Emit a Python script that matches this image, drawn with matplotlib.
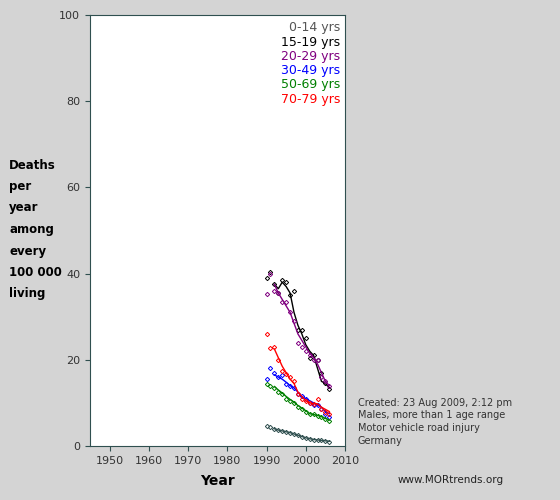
import matplotlib
matplotlib.use("Agg")
import matplotlib.pyplot as plt

years = list(range(1990, 2007))
line_years = list(range(1992, 2007))
labels = ["0-14 yrs", "15-19 yrs", "20-29 yrs", "30-49 yrs", "50-69 yrs", "70-79 yrs"]
colors = ["#2F4F4F", "#000000", "#800080", "#0000FF", "#008000", "#FF0000"]
pts = [
    [4.7,4.3,4.0,3.7,3.5,3.3,3.1,2.8,2.5,2.2,1.9,1.6,1.5,1.4,1.3,1.2,1.0],
    [38.9,40.4,37.5,35.5,38.4,38.1,35,36,27,26.8,25,20.5,21,20,17,14.6,13.2],
    [35.3,40,36,35.4,33.4,33.4,31.2,29,24,23,22,21,20,20,16,15,14],
    [15.5,18,17,16,16.5,14.5,14,13.5,12,11.5,11,10,9.5,9.5,8.5,7.5,6.8],
    [14.5,14,13.5,12.5,12,11,10.5,10,9,8.5,8,7.5,7.5,7,6.8,6.3,5.8],
    [26,22.7,23,20,17.5,16.8,16,15,12,11,10.5,10,9.8,11,8.5,8,7.5],
]
lines = [
    [4,3.7,3.5,3.3,3.1,2.8,2.5,2.2,1.9,1.7,1.5,1.4,1.3,1.2,1.1],
    [37.5,36.5,38,37,35.5,31,28,26,23.5,22,21,18,15,14.5,13.5],
    [37.5,35.5,34,32.5,31,28.5,26,24.5,23,21.5,20.5,19,17,15,14],
    [16.5,16,15.5,14.8,14,13.5,12.5,11.5,11,10.5,10,9.5,9,8,7.5],
    [13.8,13,12.3,11.5,10.8,10.2,9.4,8.8,8.2,7.5,7.3,7.1,6.8,6.4,6],
    [22.5,20.5,18.5,17,15.5,14.5,12.5,11.5,10.5,10,9.8,9.8,9,8.5,8],
]

fig = plt.figure(figsize=(5.6, 5.0), dpi=100, facecolor="#D4D4D4")
ax = fig.add_axes([90/560, 54/500, 255/560, 431/500])
ax.set_facecolor("white")
for p, l, c in zip(pts, lines, colors):
    ax.plot(years, p, linestyle="none", marker="D", markersize=2.2, markerfacecolor="none",
            markeredgecolor=c, markeredgewidth=0.7)
    ax.plot(line_years, l, color=c, lw=1)
ax.set_xlim(1945, 2010)
ax.set_ylim(0, 100)
ax.set_xticks(range(1950, 2011, 10))
ax.set_yticks(range(0, 101, 20))
for s in ax.spines.values():
    s.set_color("#2F4F4F")
ax.tick_params(colors="#2F4F4F", labelsize=8, labelcolor="#333333")
ax.set_xlabel("Year", fontsize=10, fontweight="bold", labelpad=6)
legend_colors = ["#555555"] + colors[1:]
for i, (lab, c) in enumerate(zip(labels, legend_colors)):
    ax.text(0.98, 0.985 - i*0.033, lab, color=c, fontsize=9, ha="right", va="top", transform=ax.transAxes)
for i, w in enumerate(["Deaths", "per", "year", "among", "every", "100 000", "living"]):
    fig.text(9/560, 1 - (165 + i*21.5)/500, w, fontsize=8.5, fontweight="bold", va="center")
for i, t in enumerate(["Created: 23 Aug 2009, 2:12 pm", "Males, more than 1 age range",
                       "Motor vehicle road injury", "Germany"]):
    fig.text(358/560, 1 - (403 + i*12.5)/500, t, fontsize=7, color="#333333", va="center")
fig.text(398/560, 1 - 480/500, "www.MORtrends.org", fontsize=7.5, color="#222222", va="center")
fig.savefig("out.png", dpi=100, facecolor=fig.get_facecolor())
